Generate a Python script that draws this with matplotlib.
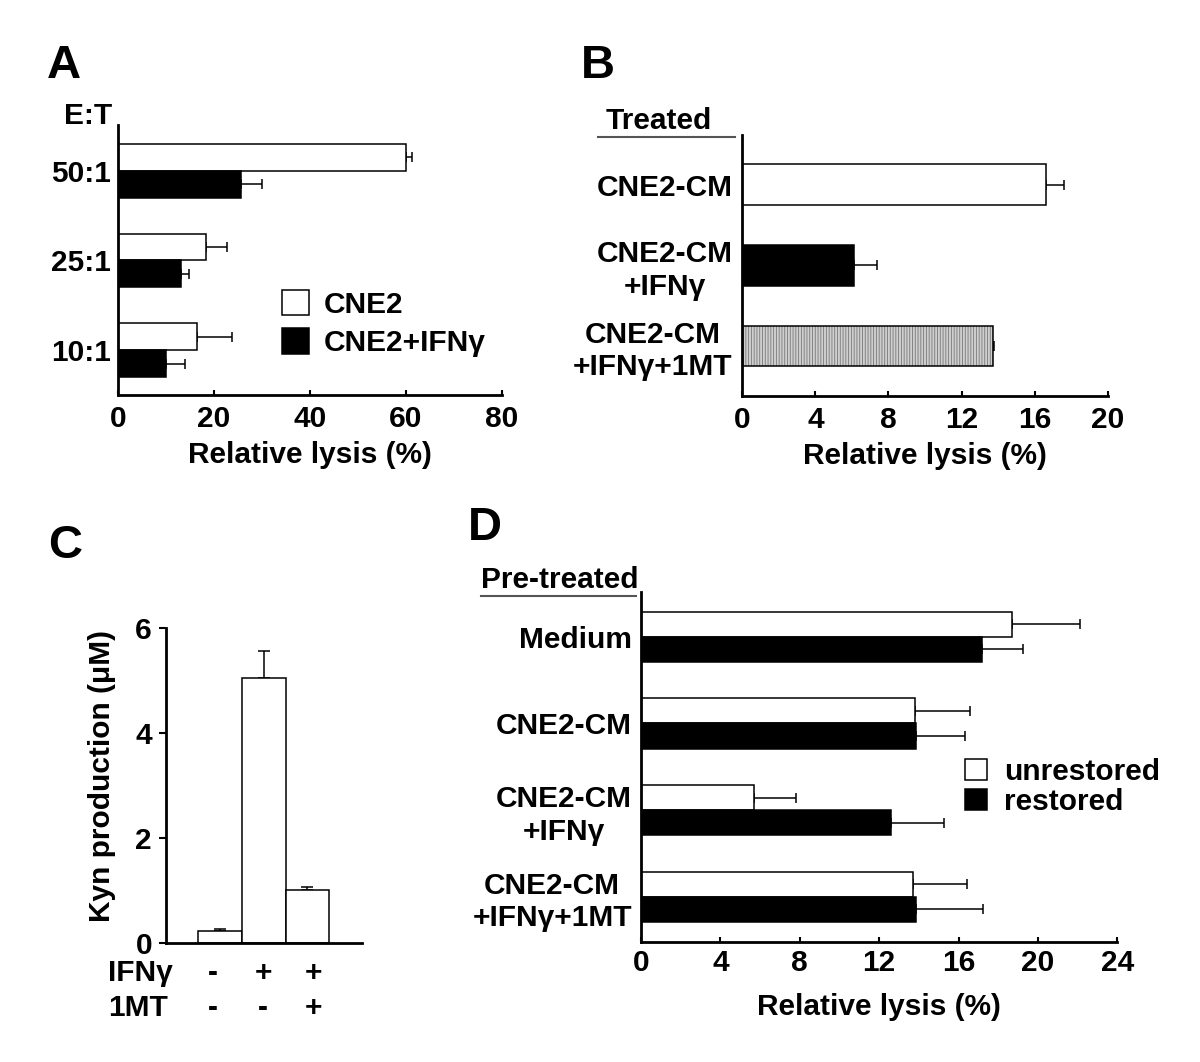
"""Cytotoxicity and kynurenine panels (A-D) redrawn as one figure."""

import matplotlib
matplotlib.use('Agg')
from matplotlib import pyplot
from matplotlib.lines import Line2D
import numpy

# Panel A: relative lysis at three E:T ratios.
ratios = ['50:1', '25:1', '10:1']
lysis_cne2 = [60.1, 18.3, 16.4]
lysis_cne2_err = [1.1, 4.5, 7.4]
lysis_ifng = [25.6, 13.1, 10.1]
lysis_ifng_err = [4.5, 1.7, 3.9]

# Panel B: lysis after treatment with conditioned medium.
treated = ['CNE2-CM', 'CNE2-CM\n+IFNγ', 'CNE2-CM\n+IFNγ+1MT']
lysis_treated = [16.6, 6.1, 13.7]
lysis_treated_err = [1.0, 1.3, 0.1]

# Panel C: kynurenine production.
kyn = [0.22, 5.05, 1.0]
kyn_err = [0.04, 0.5, 0.07]
ifng_signs = ['-', '+', '+']
mt_signs = ['-', '-', '+']

# Panel D: lysis after pre-treatment, unrestored vs restored.
pretreated = ['Medium', 'CNE2-CM', 'CNE2-CM\n+IFNγ', 'CNE2-CM\n+IFNγ+1MT']
lysis_unrestored = [18.7, 13.8, 5.7, 13.7]
lysis_unrestored_err = [3.4, 2.8, 2.1, 2.75]
lysis_restored = [17.2, 13.85, 12.6, 13.85]
lysis_restored_err = [2.05, 2.5, 2.65, 3.4]

W, H = 1200.0, 1062.0


def fig_rect(left, top, right, bottom):
    # pixel box -> figure fraction rect
    return [left / W, 1 - bottom / H, (right - left) / W, (bottom - top) / H]


def fx(px):
    return px / W


def fy(py):
    return 1 - py / H


def style_axes(ax):
    for side in ('top', 'right'):
        ax.spines[side].set_visible(False)
    for side in ('left', 'bottom'):
        ax.spines[side].set_linewidth(2.0)


def hbar_errors(ax, values, pos, err):
    ax.errorbar(values, pos, xerr=[numpy.zeros(len(err)), err], fmt='none',
                ecolor='black', elinewidth=1.1, capsize=3.5, capthick=1.1,
                zorder=0.5)


def underlined_title(text, xc, yc, x0, x1, yline):
    fig.text(fx(xc), fy(yc), text, ha='center', va='center')
    fig.add_artist(Line2D([fx(x0), fx(x1)], [fy(yline), fy(yline)],
                          color='#555555', lw=1.5, transform=fig.transFigure))


pyplot.rc('font', family='Liberation Sans', weight='bold', size=21.5)
pyplot.rc('axes', labelweight='bold')
pyplot.rc('hatch', linewidth=0.6)
fig = pyplot.figure(figsize=(W / 100, H / 100), dpi=100)

# ---- Panel A
ax = fig.add_axes(fig_rect(118, 125, 502, 395))
style_axes(ax)
y = numpy.arange(len(ratios))
h = 0.3
ax.barh(y - h / 2, lysis_cne2, height=h, color='white', edgecolor='black',
        lw=1.1, label='CNE2')
ax.barh(y + h / 2, lysis_ifng, height=h, color='black', edgecolor='black',
        lw=1.1, label='CNE2+IFNγ')
hbar_errors(ax, lysis_cne2, y - h / 2, lysis_cne2_err)
hbar_errors(ax, lysis_ifng, y + h / 2, lysis_ifng_err)
ax.set_xlim(0, 80)
ax.set_ylim(2.5, -0.51)
ax.set_xticks([0, 20, 40, 60, 80])
ax.set_yticks(y, ratios)
ax.tick_params(axis='x', direction='in', length=3.6, width=1.5, pad=7.5)
ax.tick_params(axis='y', length=0, pad=5)
ax.set_xlabel('Relative lysis (%)', labelpad=5.5)
ax.legend(loc='center left', bbox_to_anchor=(fx(282), fy(323.5)),
          bbox_transform=fig.transFigure, frameon=False, handlelength=0.9,
          handleheight=0.95, handletextpad=0.5, labelspacing=0.32,
          borderpad=0, borderaxespad=0)
fig.text(fx(88), fy(116.5), 'E:T', ha='center', va='center')

# ---- Panel B
ax = fig.add_axes(fig_rect(742.3, 135, 1107.7, 395.7))
style_axes(ax)
y = numpy.arange(len(treated))
h = 0.5
ax.barh(y, lysis_treated, height=h, color=['white', 'black', '#cfcfcf'],
        edgecolor='none', zorder=1)
ax.barh(y[2], lysis_treated[2], height=h, facecolor='none',
        edgecolor='#777777', lw=0, hatch='||||||', zorder=1.5)
ax.barh(y, lysis_treated, height=h, fill=False, edgecolor='black', lw=1.1,
        zorder=2)
hbar_errors(ax, lysis_treated, y, lysis_treated_err)
ax.set_xlim(0, 20)
ax.set_ylim(2.615, -0.615)
ax.set_xticks([0, 4, 8, 12, 16, 20])
ax.set_yticks(y, treated)
for label in ax.get_yticklabels():
    label.set_multialignment('center')
ax.tick_params(axis='x', direction='in', length=3.6, width=1.5, pad=7.5)
ax.tick_params(axis='y', length=0, pad=7)
ax.set_xlabel('Relative lysis (%)', labelpad=5.5)
underlined_title('Treated', 659, 121, 598, 735, 137)

# ---- Panel C
ax = fig.add_axes(fig_rect(166, 627.7, 361.7, 942.7))
style_axes(ax)
x = numpy.arange(len(kyn))
ax.bar(x, kyn, width=1.0, color='white', edgecolor='black', lw=1.1, zorder=1)
ax.errorbar(x, kyn, yerr=[numpy.zeros(len(kyn_err)), kyn_err], fmt='none',
            ecolor='black', elinewidth=1.1, capsize=4, capthick=1.1,
            zorder=0.5)
ax.set_xlim(-1.23, 3.24)
ax.set_ylim(0, 6)
ax.set_yticks([0, 2, 4, 6])
ax.set_xticks([])
ax.tick_params(axis='y', direction='out', length=5, width=1.5, pad=5)
fig.text(fx(101.7), fy(776), 'Kyn production (μM)', rotation=90,
         ha='center', va='center')
sign_x = x * 1.14 - 0.15
row_tf = matplotlib.transforms.blended_transform_factory(ax.transData,
                                                          fig.transFigure)
for xi, s1, s2 in zip(sign_x, ifng_signs, mt_signs):
    ax.text(xi, fy(973), s1, ha='center', va='center', transform=row_tf)
    ax.text(xi, fy(1008), s2, ha='center', va='center', transform=row_tf)
fig.text(fx(108), fy(973), 'IFNγ', ha='left', va='center')
fig.text(fx(108), fy(1008), '1MT', ha='left', va='center')

# ---- Panel D
ax = fig.add_axes(fig_rect(641, 591.7, 1117.3, 942.3))
style_axes(ax)
y = numpy.arange(len(pretreated))
h = 0.29
ax.barh(y - h / 2, lysis_unrestored, height=h, color='white',
        edgecolor='black', lw=1.1, label='unrestored')
ax.barh(y + h / 2, lysis_restored, height=h, color='black',
        edgecolor='black', lw=1.1, label='restored')
hbar_errors(ax, lysis_unrestored, y - h / 2, lysis_unrestored_err)
hbar_errors(ax, lysis_restored, y + h / 2, lysis_restored_err)
ax.set_xlim(0, 24)
ax.set_ylim(3.525, -0.52)
ax.set_xticks([0, 4, 8, 12, 16, 20, 24])
ax.set_yticks(y, pretreated)
for label in ax.get_yticklabels():
    label.set_multialignment('center')
ax.tick_params(axis='x', direction='in', length=3.6, width=1.5, pad=5)
ax.tick_params(axis='y', length=0, pad=6.5)
ax.set_xlabel('Relative lysis (%)', labelpad=11)
ax.legend(loc='center left', bbox_to_anchor=(fx(965), fy(787)),
          bbox_transform=fig.transFigure, frameon=False, handlelength=0.72,
          handleheight=0.72, handletextpad=0.6, labelspacing=0.05,
          borderpad=0, borderaxespad=0)
underlined_title('Pre-treated', 560, 580, 481, 636, 596)

# Panel letters.
for letter, (px, py) in zip('ABCD', [(64, 66), (598, 66), (65, 546), (485, 528)]):
    fig.text(fx(px), fy(py), letter, ha='center', va='center', fontsize=34)

fig.savefig('out.png', dpi=100)
